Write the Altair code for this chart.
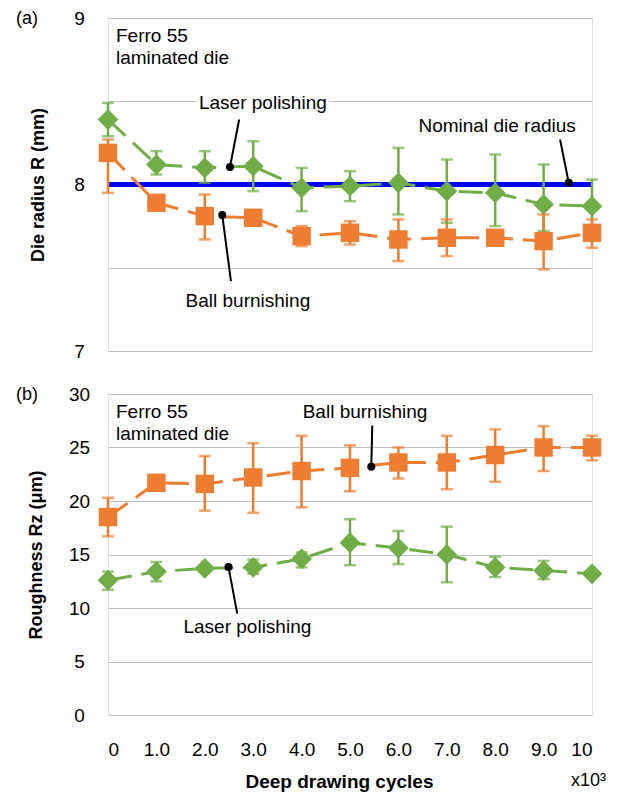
import altair as alt
import pandas as pd

# ---------------- data ----------------
cycles = [0, 1, 2, 3, 4, 5, 6, 7, 8, 9, 10]
series_names = ["Laser polishing", "Ball burnishing"]
series_colors = ["#70ad47", "#ed7d31"]
series_shapes = ["diamond", "square"]
series_sizes = [430, 340]

radius_laser = [8.39, 8.12, 8.10, 8.11, 7.98, 7.99, 8.01, 7.96, 7.95, 7.88, 7.87]
radius_laser_hi = [8.49, 8.20, 8.20, 8.26, 8.10, 8.08, 8.22, 8.15, 8.18, 8.12, 8.03]
radius_laser_lo = [8.29, 8.06, 8.01, 7.96, 7.84, 7.90, 7.82, 7.77, 7.75, 7.72, 7.72]
radius_ball = [8.19, 7.89, 7.81, 7.80, 7.69, 7.71, 7.67, 7.68, 7.68, 7.66, 7.71]
radius_ball_hi = [8.27, 7.92, 7.94, 7.83, 7.75, 7.78, 7.79, 7.79, 7.71, 7.82, 7.79]
radius_ball_lo = [7.95, 7.86, 7.67, 7.77, 7.63, 7.64, 7.54, 7.57, 7.65, 7.49, 7.62]
nominal_radius = [8.0, 8.0]
nominal_cycles = [0, 10]

rough_laser = [12.6, 13.4, 13.7, 13.8, 14.6, 16.1, 15.6, 15.0, 13.8, 13.5, 13.2]
rough_laser_hi = [13.4, 14.3, 14.0, 14.5, 15.2, 18.3, 17.2, 17.6, 14.8, 14.4, 13.5]
rough_laser_lo = [11.7, 12.5, 13.4, 13.2, 13.8, 14.0, 14.1, 12.4, 12.9, 12.7, 12.9]
rough_ball = [18.5, 21.7, 21.6, 22.2, 22.8, 23.1, 23.6, 23.6, 24.3, 25.0, 25.0]
rough_ball_hi = [20.3, 22.0, 24.2, 25.4, 26.1, 25.2, 25.0, 26.1, 26.7, 27.0, 26.1]
rough_ball_lo = [16.7, 21.4, 19.1, 18.9, 19.4, 20.9, 22.1, 21.1, 21.8, 22.8, 23.8]

radius_ticks = [7, 7.5, 8, 8.5, 9]
rough_ticks = [0, 5, 10, 15, 20, 25, 30]

# annotations (data coordinates): text, text pos, leader start, leader end (dot)
top_notes_text = ["Laser polishing", "Ball burnishing", "Nominal die radius"]
top_notes_xy = [(3.20, 8.49), (2.89, 7.30), (8.04, 8.35)]
top_leader_from = [(2.71, 8.39), (2.54, 7.42), (9.34, 8.27)]
top_leader_to = [(2.52, 8.105), (2.36, 7.817), (9.52, 8.01)]

bot_notes_text = ["Ball burnishing", "Laser polishing"]
bot_notes_xy = [(5.31, 28.3), (2.88, 8.24)]
bot_leader_from = [(5.46, 27.05), (2.67, 9.48)]
bot_leader_to = [(5.44, 23.2), (2.49, 13.84)]

box_lines = ["Ferro 55", "laminated die"]
top_box_xy = [(0.165, 8.89), (0.165, 8.76)]
bot_box_xy = [(0.165, 28.3), (0.165, 26.26)]

FONT = "Liberation Sans"
W = 484


def long_df(vals_l, lo_l, hi_l, vals_b, lo_b, hi_b):
    rows = []
    for name, v, lo, hi in [(series_names[0], vals_l, lo_l, hi_l),
                            (series_names[1], vals_b, lo_b, hi_b)]:
        for c, a, b, d in zip(cycles, v, lo, hi):
            rows.append({"cycle": c, "value": a, "lo": b, "hi": d, "series": name})
    return pd.DataFrame(rows)


def panel(df, ydomain, yticks, height, yaxis, xaxis, notes_text, notes_xy,
          lfrom, lto, box_xy, tag, extra_layers=None):
    xs = alt.Scale(domain=[0, 10], nice=False)
    ys = alt.Scale(domain=ydomain, nice=False)
    X = lambda f: alt.X(f, type="quantitative", scale=xs, axis=xaxis)
    Y = lambda f: alt.Y(f, type="quantitative", scale=ys, axis=yaxis)
    color = alt.Color("series:N", scale=alt.Scale(domain=series_names, range=series_colors), legend=None)
    shape = alt.Shape("series:N", scale=alt.Scale(domain=series_names, range=series_shapes), legend=None)
    size = alt.Size("series:N", scale=alt.Scale(domain=series_names, range=series_sizes), legend=None)

    base = alt.Chart(df)
    layers = []
    if extra_layers:
        layers += extra_layers(X, Y)
    rules = base.mark_rule(strokeWidth=2.5).encode(x=X("cycle"), y=Y("lo"), y2="hi", color=color)
    caps_lo = base.mark_tick(orient="horizontal", size=12, thickness=2.5).encode(x=X("cycle"), y=Y("lo"), color=color)
    caps_hi = base.mark_tick(orient="horizontal", size=12, thickness=2.5).encode(x=X("cycle"), y=Y("hi"), color=color)
    lines = base.mark_line(strokeWidth=3, strokeDash=[24, 10]).encode(
        x=X("cycle"), y=Y("value"), color=color, detail="series:N")
    pts = base.mark_point(filled=True, opacity=1).encode(
        x=X("cycle"), y=Y("value"), color=color, shape=shape, size=size)
    layers += [rules, caps_lo, caps_hi, lines, pts]

    ldf = pd.DataFrame({"cycle": [a[0] for a in lfrom], "value": [a[1] for a in lfrom],
                        "cycle2": [a[0] for a in lto], "value2": [a[1] for a in lto]})
    leaders = alt.Chart(ldf).mark_rule(color="black", strokeWidth=2).encode(
        x=X("cycle"), y=Y("value"), x2="cycle2", y2="value2")
    dots = alt.Chart(ldf).mark_point(filled=True, shape="circle", size=65, color="black", opacity=1).encode(
        x=X("cycle2"), y=Y("value2"))
    ndf = pd.DataFrame({"cycle": [a[0] for a in notes_xy], "value": [a[1] for a in notes_xy],
                        "text": notes_text})
    bdf = pd.DataFrame({"cycle": [a[0] for a in box_xy], "value": [a[1] for a in box_xy],
                        "text": box_lines})
    txt_kw = dict(font=FONT, fontSize=19, baseline="middle")
    halo = dict(stroke="white", strokeWidth=8, strokeJoin="round", fill="white")
    n_halo = alt.Chart(ndf).mark_text(align="center", **txt_kw, **halo).encode(x=X("cycle"), y=Y("value"), text="text")
    n_txt = alt.Chart(ndf).mark_text(align="center", color="black", **txt_kw).encode(x=X("cycle"), y=Y("value"), text="text")
    b_halo = alt.Chart(bdf).mark_text(align="left", **txt_kw, **halo).encode(x=X("cycle"), y=Y("value"), text="text")
    b_txt = alt.Chart(bdf).mark_text(align="left", color="black", **txt_kw).encode(x=X("cycle"), y=Y("value"), text="text")
    tagc = alt.Chart(pd.DataFrame({"t": [tag]})).mark_text(
        align="left", baseline="middle", font=FONT, fontSize=18, color="black").encode(
        x=alt.value(-92), y=alt.value(1), text="t:N")
    layers += [leaders, n_halo, b_halo, n_txt, b_txt, dots, tagc]
    return alt.layer(*layers).properties(width=W, height=height)


def y_axis(title, values, height, label_expr, title_x):
    return alt.Axis(title=title, values=values, grid=True, gridColor="#c0c0c0", gridWidth=1,
                    ticks=False, tickSize=0, domain=False,
                    labelFont=FONT, labelFontSize=19, labelColor="black",
                    labelAlign="center", labelBaseline="middle", labelPadding=29,
                    labelExpr=label_expr,
                    titleFont=FONT, titleFontSize=18, titleFontWeight="bold", titleColor="black",
                    titleAngle=-90, titleAlign="center", titleBaseline="middle",
                    titleX=title_x, titleY=height / 2)


top_h, bot_h = 333, 321

df_r = long_df(radius_laser, radius_laser_lo, radius_laser_hi, radius_ball, radius_ball_lo, radius_ball_hi)
df_z = long_df(rough_laser, rough_laser_lo, rough_laser_hi, rough_ball, rough_ball_lo, rough_ball_hi)


def nominal_layer(X, Y):
    ndf = pd.DataFrame({"cycle": nominal_cycles, "value": nominal_radius})
    return [alt.Chart(ndf).mark_line(color="#0000ff", strokeWidth=5).encode(x=X("cycle"), y=Y("value"))]


top = panel(df_r, [7, 9], radius_ticks, top_h,
            y_axis("Die radius R (mm)", radius_ticks, top_h,
                   "datum.value % 1 === 0 ? format(datum.value, 'd') : ''", -70),
            None, top_notes_text, top_notes_xy, top_leader_from, top_leader_to, top_box_xy, "(a)",
            extra_layers=nominal_layer)

x_axis = alt.Axis(title="Deep drawing cycles", values=cycles, grid=False, ticks=False, tickSize=0,
                  domain=False, labelFont=FONT, labelFontSize=19, labelColor="black", labelPadding=25,
                  labelExpr="datum.value == 0 ? '0' : (datum.value == 10 ? '10' : format(datum.value, '.1f'))",
                  titleFont=FONT, titleFontSize=19, titleFontWeight="bold", titleColor="black",
                  titleX=231, titleY=66, titleAlign="center", titleBaseline="middle")

bottom = panel(df_z, [0, 30], rough_ticks, bot_h,
               y_axis("Roughness Rz (μm)", rough_ticks, bot_h, "format(datum.value, 'd')", -72),
               x_axis, bot_notes_text, bot_notes_xy, bot_leader_from, bot_leader_to, bot_box_xy, "(b)")

unit = alt.Chart(pd.DataFrame({"t": ["x10³"]})).mark_text(
    align="left", baseline="middle", font=FONT, fontSize=18, color="black").encode(
    x=alt.value(463), y=alt.value(387), text="t:N")
bottom = alt.layer(bottom, unit)

chart = alt.vconcat(top, bottom, spacing=22).properties(
    padding={"left": 7, "top": 0, "right": 2, "bottom": 2}
).configure_view(stroke="black", strokeWidth=2).configure(background="white")

chart.save("out.html", embed_options={"renderer": "svg", "actions": False})
